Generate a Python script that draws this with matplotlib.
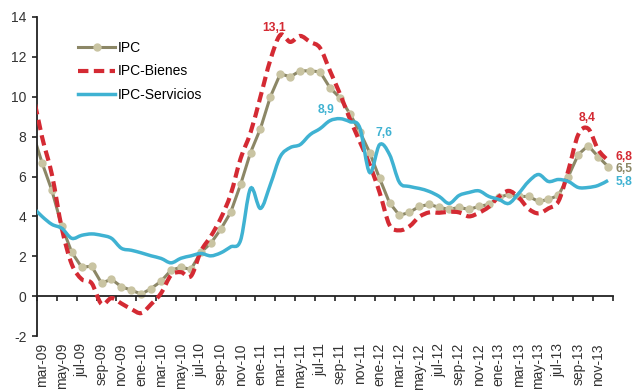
import numpy as np
import matplotlib
matplotlib.use("Agg")
import matplotlib.pyplot as plt
from matplotlib.path import Path
from matplotlib.patches import PathPatch
from matplotlib.lines import Line2D

plt.rcParams['font.family'] = ['Liberation Sans', 'DejaVu Sans']
plt.rcParams['axes.unicode_minus'] = False

# meses: feb-09 ... dic-13 (feb-09 queda fuera del eje, solo se ve la entrada de la linea)
meses = ['ene', 'feb', 'mar', 'abr', 'may', 'jun', 'jul', 'ago', 'sep', 'oct', 'nov', 'dic']
periodos = ['feb-09', 'mar-09', 'abr-09', 'may-09', 'jun-09', 'jul-09', 'ago-09',
            'sep-09', 'oct-09', 'nov-09', 'dic-09']
for anio in ['10', '11', '12', '13']:
    periodos += [m + '-' + anio for m in meses]

ipc = [8.3, 6.7, 5.3, 3.5, 2.2, 1.45, 1.5, 0.65, 0.85, 0.47, 0.3,
       0.1, 0.38, 0.75, 1.3, 1.45, 1.34, 2.2, 2.65, 3.35, 4.2, 5.6, 7.2,
       8.4, 10.0, 11.15, 11.0, 11.3, 11.3, 11.25, 10.45, 9.95, 9.15, 8.25, 7.2,
       5.9, 4.68, 4.05, 4.2, 4.5, 4.6, 4.45, 4.35, 4.45, 4.35, 4.5, 4.6,
       4.95, 5.1, 5.0, 5.0, 4.75, 4.85, 5.05, 6.0, 7.1, 7.55, 7.0, 6.5]

ipc_bienes = [10.4, 8.0, 6.1, 3.4, 1.6, 0.85, 0.65, -0.4, -0.1, -0.37, -0.65,
              -0.85, -0.4, 0.15, 1.05, 1.2, 1.0, 2.25, 3.0, 3.9, 5.1, 6.9, 8.2,
              10.0, 11.85, 13.1, 12.75, 13.05, 12.75, 12.45, 11.3, 10.15, 8.9, 7.75, 6.6,
              5.2, 3.56, 3.3, 3.5, 3.98, 4.2, 4.18, 4.23, 4.2, 4.0, 4.18, 4.48,
              4.98, 5.28, 4.95, 4.38, 4.15, 4.4, 4.75, 6.3, 8.1, 8.4, 7.35, 6.8]

ipc_servicios = [4.5, 4.0, 3.6, 3.4, 2.9, 3.05, 3.12, 3.05, 2.9, 2.4, 2.3,
                 2.17, 2.02, 1.89, 1.67, 1.9, 2.02, 2.14, 2.02, 2.17, 2.47, 2.8, 5.4,
                 4.4, 5.6, 7.0, 7.45, 7.6, 8.1, 8.4, 8.8, 8.9, 8.75, 8.45, 6.2,
                 7.6, 7.1, 5.7, 5.5, 5.4, 5.25, 5.0, 4.65, 5.05, 5.2, 5.28, 5.0,
                 4.85, 4.65, 5.15, 5.75, 6.1, 5.75, 5.85, 5.75, 5.45, 5.45, 5.55, 5.8]

c_ipc = '#8C8766'
c_mk = '#C9C4A2'
c_bienes = '#D42A33'
c_serv = '#3FB2D2'
c_txt = '#333333'
guiones = (0, (2.5, 1.3))


def linea_suave(x, y):
    # curva bezier tipo "linea suavizada" de Excel
    pts = np.column_stack([x, y])
    n = len(pts)
    verts = [pts[0]]
    codes = [Path.MOVETO]
    for i in range(n - 1):
        p0 = pts[max(i - 1, 0)]
        p1 = pts[i]
        p2 = pts[i + 1]
        p3 = pts[min(i + 2, n - 1)]
        verts += [p1 + (p2 - p0) / 6.0, p2 - (p3 - p1) / 6.0, p2]
        codes += [Path.CURVE4] * 3
    return Path(verts, codes)


x = np.arange(len(periodos))

fig = plt.figure(figsize=(6.34, 3.9), dpi=100)
ax = fig.add_axes([37 / 634, 54 / 390, 576 / 634, 319 / 390])

ax.plot(x, ipc, color=c_ipc, lw=2.2, marker='o', ms=5, mfc=c_mk, mec=c_mk, zorder=2)
ax.add_patch(PathPatch(linea_suave(x, ipc_bienes), fill=False, edgecolor=c_bienes, lw=3,
                       linestyle=guiones, capstyle='butt', zorder=3))
ax.add_patch(PathPatch(linea_suave(x, ipc_servicios), fill=False, edgecolor=c_serv, lw=2.5,
                       zorder=4))

ax.set_xlim(0.5, 58.5)
ax.set_ylim(-2, 14)
ax.set_yticks(range(-2, 15, 2))

for s in ['top', 'right']:
    ax.spines[s].set_visible(False)
ax.spines['bottom'].set_position(('data', 0))
for s in ['left', 'bottom']:
    ax.spines[s].set_linewidth(1.3)
    ax.spines[s].set_color('#222222')

ax.set_xticks(x[1::2])
ax.set_xticklabels(periodos[1::2], rotation=90)
ax.set_xticks(np.arange(0.5, 59, 2), minor=True)
ax.tick_params(axis='x', which='major', length=0, pad=33.8, labelsize=10, labelcolor=c_txt)
ax.tick_params(axis='x', which='minor', length=3.6, width=1.2, direction='out', color='#222222')
ax.tick_params(axis='y', length=3.6, width=1.2, direction='out', pad=4, labelsize=10,
               labelcolor=c_txt, color='#222222')

h_ipc = Line2D([], [], color=c_ipc, lw=2.2, marker='o', ms=5, mfc=c_mk, mec=c_mk)
h_bienes = Line2D([], [], color=c_bienes, lw=3, linestyle=guiones)
h_serv = Line2D([], [], color=c_serv, lw=2.5)
ax.legend([h_ipc, h_bienes, h_serv], ['IPC', 'IPC-Bienes', 'IPC-Servicios'],
          loc='upper left', bbox_to_anchor=(0.071, 0.925), frameon=False, fontsize=10,
          handlelength=2.7, handletextpad=0.2, labelspacing=0.68, borderpad=0,
          borderaxespad=0, numpoints=1)

# etiquetas de valores
kw = dict(fontsize=8.7, fontweight='bold', va='center')
ax.text(24.37, 13.45, '13,1', color=c_bienes, ha='center', **kw)
ax.text(29.6, 9.33, '8,9', color=c_serv, ha='center', **kw)
ax.text(35.44, 8.18, '7,6', color=c_serv, ha='center', **kw)
ax.text(55.9, 8.93, '8,4', color=c_bienes, ha='center', **kw)
ax.text(58.75, 6.97, '6,8', color=c_bienes, ha='left', clip_on=False, **kw)
ax.text(58.75, 6.37, '6,5', color=c_ipc, ha='left', clip_on=False, **kw)
ax.text(58.75, 5.72, '5,8', color=c_serv, ha='left', clip_on=False, **kw)

fig.savefig('out.png', dpi=100)
